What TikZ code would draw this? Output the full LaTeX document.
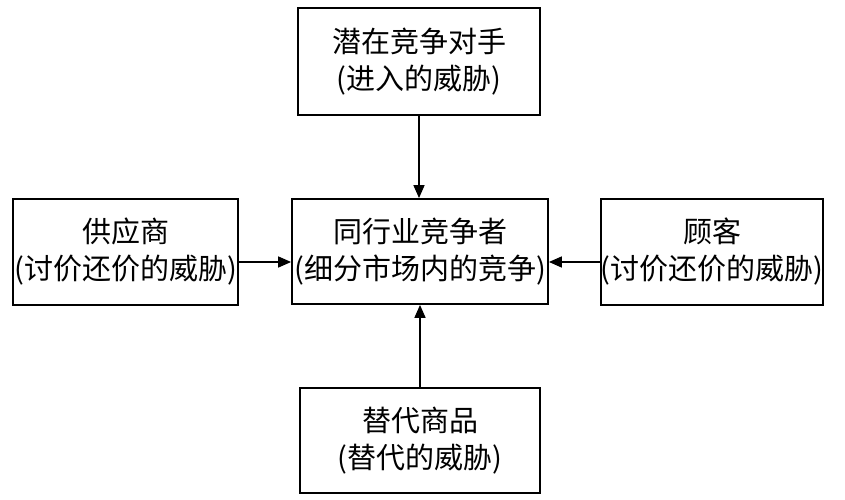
\documentclass[tikz,border=0pt]{standalone}
\usepackage{fontspec}
\setmainfont{Noto Sans CJK SC}
\usetikzlibrary{arrows.meta}
\tikzset{
  box/.style={draw=black, line width=1.8pt, rectangle, align=center, inner sep=0pt,
    font=\fontsize{29}{37}\selectfont},
  conn/.style={line width=1.6pt, -{Triangle[length=13pt,width=11pt]}}
}
\begin{document}
\begin{tikzpicture}[x=1pt,y=1pt]
\useasboundingbox[fill=white] (0,0) rectangle (845,500);
\node[box, minimum width=242pt, minimum height=107pt] (top) at (419,438.5) {潜在竞争对手\\(进入的威胁)};
\node[box, minimum width=225pt, minimum height=106pt] (left) at (125.5,248) {供应商\\(讨价还价的威胁)};
\node[box, minimum width=256pt, minimum height=105pt] (center) at (420,248.5) {同行业竞争者\\(细分市场内的竞争)};
\node[box, minimum width=222pt, minimum height=106pt] (right) at (712,248) {顾客\\(讨价还价的威胁)};
\node[box, minimum width=240pt, minimum height=105pt] (bottom) at (420,59.5) {替代商品\\(替代的威胁)};
\coordinate (lc) at ([yshift=-10pt]left.east);
\coordinate (rc) at ([yshift=-10pt]right.west);
\draw[conn] (top.south) -- (top.south |- center.north);
\draw[conn] (bottom.north) -- (bottom.north |- center.south);
\draw[conn] (lc) -- (lc -| center.west);
\draw[conn] (rc) -- (rc -| center.east);
\end{tikzpicture}
\end{document}
